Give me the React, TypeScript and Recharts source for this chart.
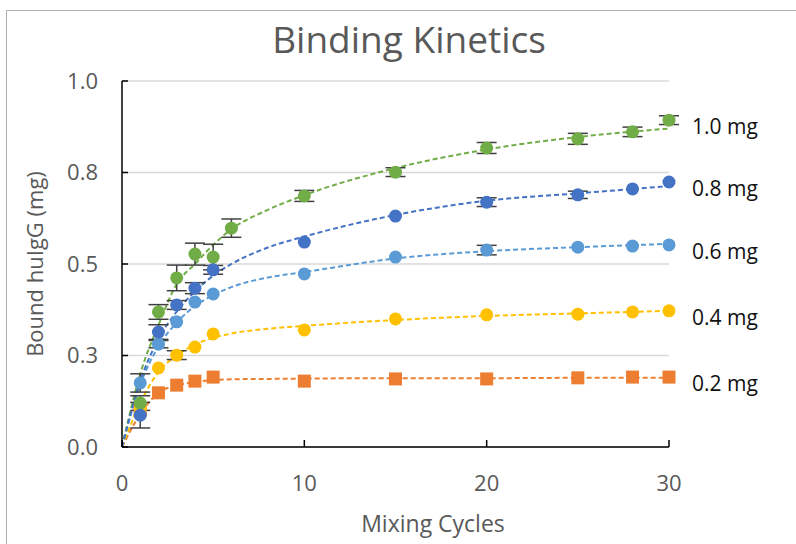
import React from 'react';
import {
  ComposedChart,
  Scatter,
  Line,
  XAxis,
  YAxis,
  CartesianGrid,
  ErrorBar,
  ReferenceDot,
  Label,
} from 'recharts';

// mixing cycles where samples were taken
const cycles = [1, 2, 3, 4, 5, 10, 15, 20, 25, 28, 30];
const cycles10 = [1, 2, 3, 4, 5, 6, 10, 15, 20, 25, 28, 30];

// bound huIgG (mg)
const bound10 = [0.12, 0.369, 0.462, 0.527, 0.519, 0.598, 0.686, 0.751, 0.817, 0.842, 0.861, 0.893];
const err10 = [0.02, 0.02, 0.035, 0.03, 0.035, 0.025, 0.015, 0.012, 0.015, 0.015, 0.013, 0.012];
const bound08 = [0.087, 0.314, 0.388, 0.434, 0.484, 0.56, 0.631, 0.669, 0.689, 0.705, 0.724];
const err08 = [0.035, 0.02, 0.012, 0.015, 0.012, 0, 0, 0.012, 0.01, 0, 0];
const bound06 = [0.175, 0.281, 0.342, 0.396, 0.418, 0.473, 0.519, 0.538, 0.546, 0.549, 0.552];
const err06 = [0.025, 0.01, 0, 0, 0, 0, 0, 0.013, 0, 0, 0];
const bound04 = [0.105, 0.216, 0.251, 0.273, 0.309, 0.32, 0.35, 0.361, 0.363, 0.369, 0.372];
const err04 = [0, 0, 0.012, 0, 0, 0, 0, 0, 0, 0, 0];
const bound02 = [0.1, 0.148, 0.169, 0.18, 0.191, 0.18, 0.186, 0.186, 0.189, 0.191, 0.191];
const err02 = [0, 0, 0, 0, 0, 0, 0, 0, 0, 0, 0];

// dashed trend curves
const fitCycles = [0, 1, 2, 3, 4, 5, 6, 8, 10, 15, 20, 25, 30];
const fit10 = [0, 0.2, 0.333, 0.445, 0.5, 0.552, 0.595, 0.648, 0.688, 0.762, 0.813, 0.847, 0.87];
const fit08 = [0, 0.18, 0.295, 0.37, 0.425, 0.468, 0.5, 0.545, 0.575, 0.634, 0.673, 0.693, 0.713];
const fit06 = [0, 0.17, 0.275, 0.34, 0.385, 0.415, 0.437, 0.463, 0.478, 0.515, 0.535, 0.546, 0.555];
const fit04 = [0, 0.12, 0.205, 0.25, 0.28, 0.298, 0.31, 0.323, 0.331, 0.347, 0.358, 0.365, 0.372];
const fit02 = [0, 0.09, 0.148, 0.168, 0.178, 0.183, 0.185, 0.186, 0.187, 0.188, 0.188, 0.189, 0.189];

const yTicks = [0, 0.25, 0.5, 0.75, 1];
const xTicks = [0, 10, 20, 30];

const FONT = '"Open Sans", sans-serif';

const toPoints = (xs: number[], ys: number[], es: number[]) =>
  xs.map((x, i) => ({ x, y: ys[i], err: es[i] }));

const series = [
  { name: '0.2 mg', color: '#ed7d31', square: true, pts: toPoints(cycles, bound02, err02), fit: toPoints(fitCycles, fit02, fit02) },
  { name: '0.4 mg', color: '#ffc000', square: false, pts: toPoints(cycles, bound04, err04), fit: toPoints(fitCycles, fit04, fit04) },
  { name: '0.6 mg', color: '#5b9bd5', square: false, pts: toPoints(cycles, bound06, err06), fit: toPoints(fitCycles, fit06, fit06) },
  { name: '1.0 mg', color: '#70ad47', square: false, pts: toPoints(cycles10, bound10, err10), fit: toPoints(fitCycles, fit10, fit10) },
  { name: '0.8 mg', color: '#4472c4', square: false, pts: toPoints(cycles, bound08, err08), fit: toPoints(fitCycles, fit08, fit08) },
];

const marker = (color: string, square: boolean) => (p: any) =>
  square ? (
    <rect x={p.cx - 6.5} y={p.cy - 6.5} width={13} height={13} fill={color} />
  ) : (
    <circle cx={p.cx} cy={p.cy} r={6.5} fill={color} />
  );

const noMarker = () => <g />;

const endLabel = (text: string) => (p: any) => (
  <text
    x={p.viewBox.x + 23}
    y={p.viewBox.y + 6}
    dominantBaseline="central"
    fontSize={21}
    fontFamily={FONT}
    fill="#111"
  >
    {text}
  </text>
);

const xTitle = (p: any) => (
  <text
    x={433}
    y={p.viewBox.y + 76}
    textAnchor="middle"
    dominantBaseline="central"
    fontSize={23}
    fontFamily={FONT}
    fill="#595959"
  >
    Mixing Cycles
  </text>
);

const yTitle = () => (
  <text
    x={34}
    y={264}
    transform="rotate(-90, 34, 264)"
    textAnchor="middle"
    dominantBaseline="central"
    fontSize={22}
    fontFamily={FONT}
    fill="#595959"
  >
    Bound huIgG (mg)
  </text>
);

export default function App() {
  return (
    <div style={{ position: 'absolute', left: 0, top: 0, width: 796, height: 544, overflow: 'hidden', background: '#fff' }}>
      <div
        style={{
          position: 'absolute',
          left: 6,
          top: 10,
          width: 900,
          height: 700,
          borderLeft: '1px solid #b0b0b0',
          borderTop: '1px solid #b0b0b0',
        }}
      />
      <div
        style={{
          position: 'absolute',
          left: 0,
          top: 20,
          width: 818,
          textAlign: 'center',
          fontFamily: FONT,
          fontSize: 37,
          lineHeight: '37px',
          color: '#595959',
        }}
      >
        Binding Kinetics
      </div>
      <ComposedChart
        width={796}
        height={544}
        margin={{ top: 81, right: 127, bottom: 57, left: 60 }}
        style={{ position: 'absolute', left: 0, top: 0 }}
      >
        <CartesianGrid vertical={false} stroke="#d9d9d9" strokeWidth={1.5} />
        <XAxis
          type="number"
          dataKey="x"
          domain={[0, 30]}
          ticks={xTicks}
          height={40}
          axisLine={{ stroke: '#000', strokeWidth: 1.5 }}
          tickLine={{ stroke: '#000', strokeWidth: 1.5 }}
          tickSize={-7}
          tickMargin={35}
          tick={{ fill: '#595959', fontSize: 22, fontFamily: FONT }}
        >
          <Label content={xTitle} />
        </XAxis>
        <YAxis
          type="number"
          domain={[0, 1]}
          ticks={yTicks}
          width={62}
          tickFormatter={(v: number) => v.toFixed(1)}
          axisLine={{ stroke: '#000', strokeWidth: 1.5 }}
          tickLine={{ stroke: '#000', strokeWidth: 1.5 }}
          tickSize={-6}
          tickMargin={30}
          tick={{ fill: '#595959', fontSize: 22, fontFamily: FONT }}
        >
          <Label content={yTitle} />
        </YAxis>
        {series.map((s) => (
          <Line
            key={'fit' + s.name}
            data={s.fit}
            dataKey="y"
            type="monotone"
            stroke={s.color}
            strokeWidth={2}
            strokeDasharray="5 3"
            dot={false}
            activeDot={false}
            isAnimationActive={false}
          />
        ))}
        {series.map((s) => (
          <Scatter
            key={'err' + s.name}
            data={s.pts}
            dataKey="y"
            shape={noMarker}
            isAnimationActive={false}
          >
            <ErrorBar dataKey="err" direction="y" width={10} stroke="#404040" strokeWidth={1.5} />
          </Scatter>
        ))}
        {series.map((s) => (
          <Scatter
            key={'pts' + s.name}
            data={s.pts}
            dataKey="y"
            shape={marker(s.color, s.square)}
            isAnimationActive={false}
          />
        ))}
        {series.map((s) => (
          <ReferenceDot
            key={'lbl' + s.name}
            x={s.pts[s.pts.length - 1].x}
            y={s.pts[s.pts.length - 1].y}
            r={0}
            fill="none"
            stroke="none"
            label={{ content: endLabel(s.name) }}
          />
        ))}
      </ComposedChart>
    </div>
  );
}
